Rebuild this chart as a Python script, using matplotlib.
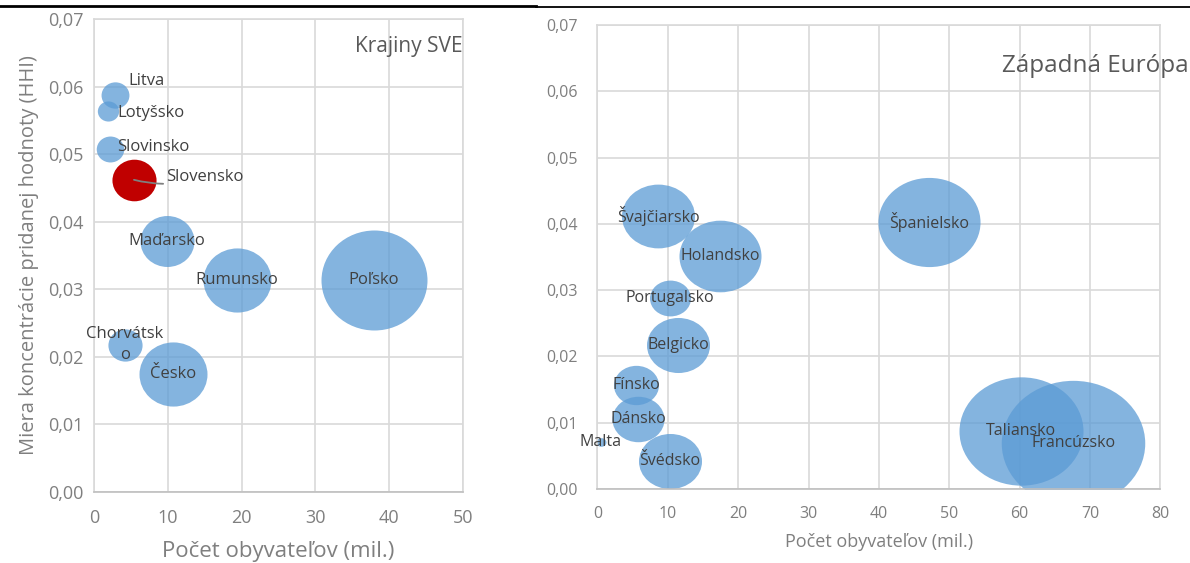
import numpy as np
import matplotlib
matplotlib.use("Agg")
import matplotlib.pyplot as plt
from matplotlib.path import Path
from matplotlib.markers import MarkerStyle
from matplotlib.transforms import Affine2D
from matplotlib.lines import Line2D

plt.rcParams['font.family'] = ['Open Sans', 'DejaVu Sans']

# Krajiny SVE
sveNames = ['Litva', 'Lotyšsko', 'Slovinsko', 'Slovensko', 'Maďarsko',
            'Rumunsko', 'Poľsko', 'Chorvátsk\no', 'Česko']
svePop = [2.8, 1.86, 2.13, 5.39, 9.87, 19.4, 37.96, 4.17, 10.68]
sveHHI = [0.0588, 0.0564, 0.0508, 0.0462, 0.0371, 0.0313, 0.0313, 0.0218, 0.0175]
sveSize = [36, 21, 35, 90, 135, 214, 520, 54, 214]

# Západná Európa
weNames = ['Švajčiarsko', 'Holandsko', 'Španielsko', 'Portugalsko', 'Belgicko',
           'Fínsko', 'Dánsko', 'Malta', 'Švédsko', 'Taliansko', 'Francúzsko']
wePop = [8.6, 17.4, 47.1, 10.3, 11.5, 5.5, 5.8, 0.45, 10.3, 60.2, 67.6]
weHHI = [0.0412, 0.0351, 0.0403, 0.0288, 0.0217, 0.0157, 0.0105, 0.0071, 0.0042, 0.0087, 0.0069]
weSize = [650, 820, 1270, 205, 484, 247, 330, 12, 484, 1875, 2510]

yTicks = [0.0, 0.01, 0.02, 0.03, 0.04, 0.05, 0.06, 0.07]

BLUE = '#5B9BD5'
RED = '#C00000'
GRID = '#D9D9D9'
TICKC = '#7F7F7F'
LABC = '#404040'


def ellipseMarker(aspect):
    circ = Path.unit_circle()
    return MarkerStyle(Affine2D().scale(aspect, 1.0).transform_path(circ))


def drawPanel(ax, size, maxWidthPx, xMax, xStep, tickSize, ypad, xpad, dpi):
    size = np.array(size, dtype=float)
    widthPt = maxWidthPx * np.sqrt(size / size.max()) * 72.0 / dpi
    ax.set_xlim(0, xMax)
    ax.set_ylim(0, 0.07)
    ax.set_xticks(np.arange(0, xMax + 1, xStep))
    ax.set_yticks(yTicks)
    ax.set_yticklabels([('%.2f' % v).replace('.', ',') for v in yTicks])
    ax.grid(True, color=GRID, linewidth=1.2, zorder=0)
    ax.set_axisbelow(True)
    for side in ['top', 'right', 'left']:
        ax.spines[side].set_color(GRID)
        ax.spines[side].set_linewidth(1.2)
    ax.spines['bottom'].set_color('#BFBFBF')
    ax.spines['bottom'].set_linewidth(1.2)
    ax.tick_params(length=0, labelsize=tickSize, labelcolor=TICKC)
    ax.tick_params(axis='y', pad=ypad)
    ax.tick_params(axis='x', pad=xpad)
    return widthPt


dpi = 100
fig = plt.figure(figsize=(11.9, 5.63), dpi=dpi)

# left panel
ax1 = fig.add_axes([0.0792, 0.1261, 0.3096, 0.8402])
w1 = drawPanel(ax1, sveSize, 106, 50, 10, 13, 8, 12, dpi)
m1 = ellipseMarker(1.06)
for i, name in enumerate(sveNames):
    col = RED if name == 'Slovensko' else BLUE
    alp = 1.0 if name == 'Slovensko' else 0.75
    ax1.scatter(svePop[i], sveHHI[i], s=w1[i] ** 2, marker=m1, color=col,
                alpha=alp, linewidths=0, zorder=2)

# label offsets in points (side labels); the rest are centred
sideLabels = {'Litva': (10, 10), 'Lotyšsko': (7, -1.5), 'Slovinsko': (5, 1.5)}
for i, name in enumerate(sveNames):
    if name in sideLabels:
        ax1.annotate(name, (svePop[i], sveHHI[i]), xytext=sideLabels[name],
                     textcoords='offset points', ha='left', va='center',
                     fontsize=12, color=LABC, zorder=3)
    elif name == 'Slovensko':
        ax1.annotate(name, (svePop[i], sveHHI[i]), xytext=(23, 2),
                     textcoords='offset points', ha='left', va='center',
                     fontsize=12, color=LABC, zorder=3,
                     arrowprops=dict(arrowstyle='-', color='#7F7F7F', lw=1.3,
                                     shrinkA=0, shrinkB=0,
                                     connectionstyle='arc3,rad=-0.15'))
    else:
        ax1.text(svePop[i], sveHHI[i], name, ha='center', va='center',
                 fontsize=12, color=LABC, zorder=3, linespacing=1.45)

ax1.text(1.0, 0.965, 'Krajiny SVE', transform=ax1.transAxes, ha='right', va='top',
         fontsize=15, color='#595959')
ax1.set_xlabel('Počet obyvateľov (mil.)', fontsize=16, color=TICKC, labelpad=10)
ax1.set_ylabel('Miera koncentrácie pridanej hodnoty (HHI)', fontsize=14.5,
               color=TICKC, labelpad=6)

# right panel
ax2 = fig.add_axes([0.5021, 0.1314, 0.4731, 0.8242])
w2 = drawPanel(ax2, weSize, 143.5, 80, 10, 11.5, 14, 12, dpi)
m2 = ellipseMarker(1.145)
for i in range(len(weNames)):
    ax2.scatter(wePop[i], weHHI[i], s=w2[i] ** 2, marker=m2, color=BLUE,
                alpha=0.75, linewidths=0, zorder=2)
for i, name in enumerate(weNames):
    ax2.text(wePop[i], weHHI[i], name, ha='center', va='center',
             fontsize=11.5, color=LABC, zorder=3)
fig.text(0.999, 1 - 66 / 563, 'Západná Európa', ha='right', va='center',
         fontsize=17.5, color='#595959')
ax2.set_xlabel('Počet obyvateľov (mil.)', fontsize=13, color=TICKC, labelpad=8)

# header rule from the page
fig.add_artist(Line2D([0, 0.45], [1 - 6.3 / 563] * 2, color='black', lw=2.0))
fig.add_artist(Line2D([0.45, 1], [1 - 6.5 / 563] * 2, color='black', lw=1.3))

fig.savefig('out.png', dpi=dpi)
